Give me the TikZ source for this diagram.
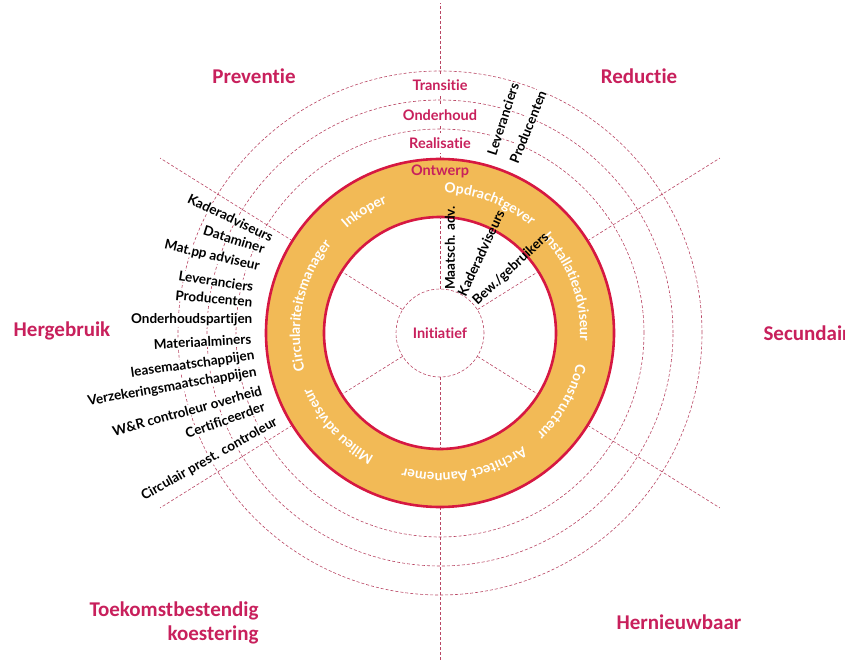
\documentclass[tikz,border=0pt]{standalone}
\usepackage{fontspec}
\setmainfont{Lato}[Ligatures=NoCommon]
\newfontfamily\cornerfont{Carlito}[Ligatures=NoCommon]
\usetikzlibrary{decorations.text}

\definecolor{titlered}{RGB}{200,32,92}
\definecolor{ringred}{RGB}{214,24,66}
\definecolor{ringfill}{RGB}{242,186,86}
\definecolor{dashred}{RGB}{185,70,100}

\tikzset{
  cornerlbl/.style={text=titlered,font=\cornerfont\bfseries\fontsize{21}{24}\selectfont,align=right},
  phaselbl/.style={text=titlered,font=\bfseries\fontsize{14.5}{16}\selectfont,fill=white,inner xsep=2pt,inner ysep=5pt},
  actorlbl/.style={font=\bfseries\fontsize{13.5}{15}\selectfont,fill=white,inner sep=0.5pt},
  guideline/.style={draw=dashred,dash pattern=on 3pt off 2pt,line width=0.6pt},
  ringlbl/.style={decorate,decoration={text along path,text align=center,text color=white,
    text={|\bfseries\fontsize{14}{16}\selectfont|#1}}}
}

\begin{document}
\begin{tikzpicture}[x=1pt,y=1pt]
  \useasboundingbox (-440,-328) rectangle (405,333);

  % dashed rings and outer spokes
  \foreach \r in {204,233,262}
    \draw[guideline] (0,0) circle (\r pt);
  \foreach \a in {90,32,148,212,270,-32}
    \draw[guideline] (\a:174pt) -- (\a:330pt);

  % orange ring
  \fill[ringfill,even odd rule] (0,0) circle (174pt) (0,0) circle (116pt);
  \draw[ringred,line width=2.6pt] (0,0) circle (174pt) (0,0) circle (116pt);

  % centre
  \node[guideline,circle,minimum size=88pt,text=titlered,font=\bfseries\fontsize{14.5}{16}\selectfont] (init) at (0,0) {Initiatief};
  \foreach \a in {90,32,148,212,270,-32}
    \draw[guideline] (init.\a) -- (\a:116pt);

  % phases
  \node[phaselbl,fill=none] (ontwerp) at (0,162) {Ontwerp};
  \node[phaselbl] (realisatie) at (0,190) {Realisatie};
  \node[phaselbl] (onderhoud) at (0,218) {Onderhoud};
  \node[phaselbl] (transitie) at (0,248) {Transitie};

  % roles in the ring
  \path[ringlbl=Opdrachtgever] (114:140pt) arc (114:24:140pt);
  \path[ringlbl=Installatieadviseur] (65:140pt) arc (65:-25:140pt);
  \path[ringlbl=Constructeur] (15.5:140pt) arc (15.5:-74.5:140pt);
  \path[ringlbl=Architect Aannemer] (-34.5:140pt) arc (-34.5:-124.5:140pt);
  \path[ringlbl=Milieu adviseur] (-92.5:140pt) arc (-92.5:-182.5:140pt);
  \path[ringlbl=Circulariteitsmanager] (213:140pt) arc (213:123:140pt);
  \path[ringlbl=Inkoper] (167:140pt) arc (167:77:140pt);

  % inner actors
  \node[actorlbl,fill=none,rotate=90] (maatsch) at (10,85) {Maatsch. adv.};
  \node[actorlbl,fill=none,rotate=65] (kader) at (41,80) {Kaderadviseurs};
  \node[actorlbl,fill=none,rotate=43] (bew) at (71,64) {Bew./gebruikers};
  \node[actorlbl,rotate=72] (lev) at (63,214) {Leveranciers};
  \node[actorlbl,rotate=68] (prod) at (88,206) {Producenten};

  % actors on the left
  \foreach \x/\y/\r/\t [count=\i] in {
      -167/95/-25.5/Kaderadviseurs,
      -175/84/-17.5/Dataminer,
      -180/66/-13/Mat.pp adviseur,
      -186/46/-8.7/Leveranciers,
      -187/31/-5/Producenten,
      -187/13/0/Onderhoudspartijen,
      -188/-6/3/Materiaalminers,
      -185/-23/8/leasemaatschappijen,
      -183/-39/10/Verzekeringsmaatschappijen,
      -178/-57/15.5/W\&R controleur overheid,
      -175/-73/19.5/Certificeerder,
      -163/-88/29.5/Circulair prest. controleur}
    \node[actorlbl,anchor=east,rotate=\r] (left\i) at (\x,\y) {\t};

  % corner labels
  \node[cornerlbl] (preventie) at (-186,257) {Preventie};
  \node[cornerlbl] (reductie) at (199,257) {Reductie};
  \node[cornerlbl] (hergebruik) at (-378,2) {Hergebruik};
  \node[cornerlbl,anchor=west] (secundair) at (320,0) {Secundair};
  \node[cornerlbl,anchor=east] (toekomst) at (-178,-290) {Toekomstbestendig\\koestering};
  \node[cornerlbl] (hernieuwbaar) at (239,-289) {Hernieuwbaar};

\end{tikzpicture}
\end{document}
